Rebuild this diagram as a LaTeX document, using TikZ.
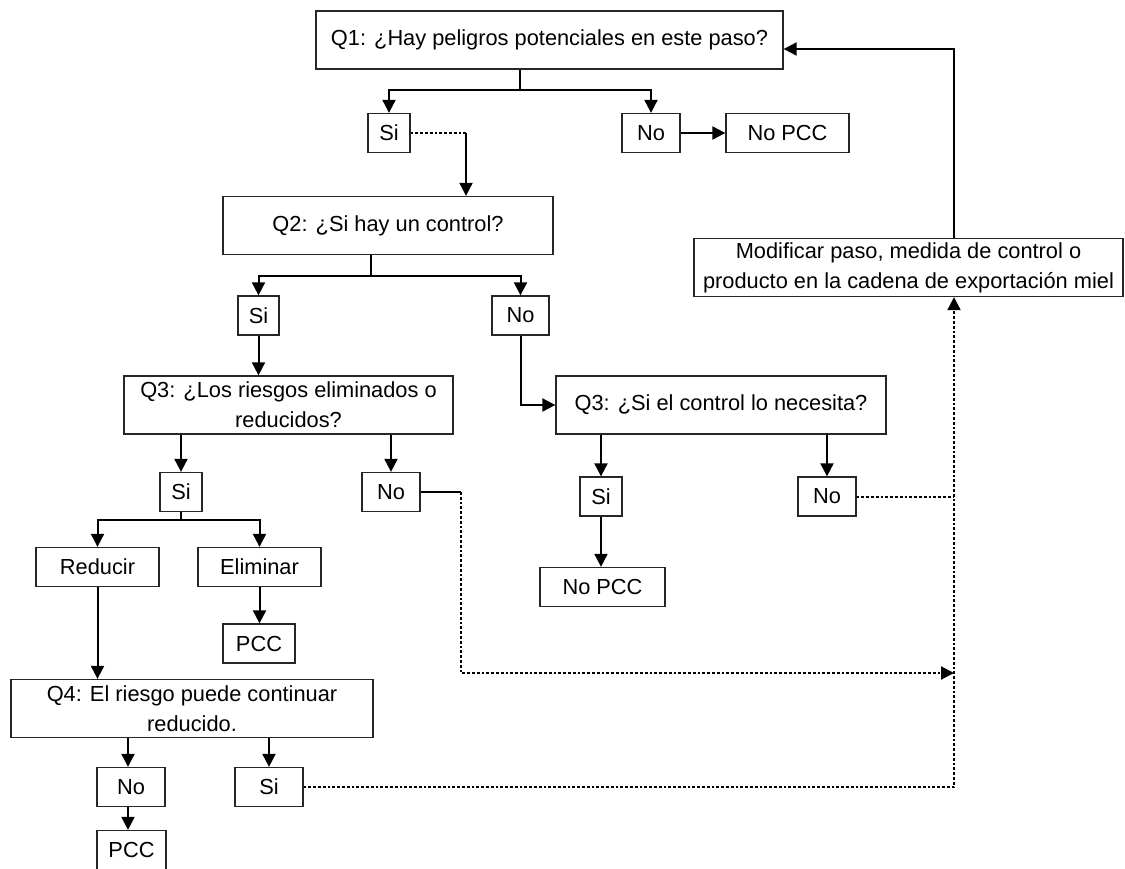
\documentclass[tikz,border=0pt]{standalone}
\usepackage{fontspec}
\setmainfont{Liberation Sans}
\usetikzlibrary{positioning, arrows.meta, calc}

\begin{document}
\begin{tikzpicture}[
        x=0.5pt, y=-0.5pt,
        box/.style={draw=black!85, line width=0.65pt, rectangle, inner sep=0pt, align=center, font=\fontsize{10.9}{15}\selectfont},
        big/.style={box, minimum height=29pt},
        small/.style={box, minimum height=19.5pt},
        arrow/.style={-{Triangle[length=6.5pt, width=6.5pt]}, line width=1pt},
        line/.style={line width=1pt},
        dotline/.style={line width=1pt, dash pattern=on 1.4pt off 1pt},
        dotarrow/.style={dotline, -{Triangle[length=6.5pt, width=6.5pt]}}
    ]
    \useasboundingbox (0,0) rectangle (1125,868);

    % Questions
    \node[big, minimum width=233.5pt] (Q1) at (549.5,40)  {Q1: ¿Hay peligros potenciales en este paso?};
    \node[big, minimum width=165pt]   (Q2) at (388,225.5) {Q2: ¿Si hay un control?};
    \node[big, minimum width=164.5pt] (Q3a) at (288.5,405) {Q3: ¿Los riesgos eliminados o\\reducidos?};
    \node[big, minimum width=165pt]   (Q3b) at (721,405)   {Q3: ¿Si el control lo necesita?};
    \node[big, minimum width=181pt]   (Q4) at (192,708.5) {Q4: El riesgo puede continuar\\reducido.};
    \node[big, minimum width=214.5pt] (M)  at (908.5,267.5) {Modificar paso, medida de control o\\producto en la cadena de exportación miel};

    % Answers after Q1
    \node[small, minimum width=21pt]   (S1)  at (389,133)   {Si};
    \node[small, minimum width=29pt]   (N1)  at (651,133)   {No};
    \node[small, minimum width=61.5pt] (NP1) at (787.5,133) {No PCC};

    % Answers after Q2
    \node[small, minimum width=20.5pt] (S2) at (258.5,315.5) {Si};
    \node[small, minimum width=28.5pt] (N2) at (520.5,315.5) {No};

    % Answers after Q3
    \node[small, minimum width=21pt]   (S3)  at (181,492)   {Si};
    \node[small, minimum width=29pt]   (N3)  at (391,492)   {No};
    \node[small, minimum width=21pt]   (S5)  at (601,496.5) {Si};
    \node[small, minimum width=29pt]   (N5)  at (827,496.5) {No};
    \node[small, minimum width=62.5pt] (NP2) at (602.5,587) {No PCC};
    \node[small, minimum width=61.5pt] (R)   at (97.5,567)  {Reducir};
    \node[small, minimum width=61.5pt] (E)   at (259.5,567) {Eliminar};
    \node[small, minimum width=36pt]   (P1)  at (259,643.5) {PCC};

    % Answers after Q4
    \node[small, minimum width=34pt]   (N4) at (131,787)   {No};
    \node[small, minimum width=34pt]   (S4) at (269,787)   {Si};
    \node[small, minimum width=34.5pt] (P2) at (131.5,850) {PCC};

    % Branch points
    \coordinate (B1) at (520,90);
    \coordinate (C1) at (466,133);
    \coordinate (B2) at (371,276);
    \coordinate (B3) at (181,520);
    \coordinate (D1) at (461,492);
    \coordinate (J1) at (954,673);
    \coordinate (V)  at (954,785);
    \coordinate (T)  at (954,49);

    % Solid connectors
    \draw[line] (Q1.south -| B1) -- (B1);
    \draw[arrow] (B1) -| (S1);
    \draw[arrow] (B1) -| (N1);
    \draw[arrow] (N1) -- (NP1);
    \draw[arrow] (C1) -- (C1 |- Q2.north);
    \draw[line] (Q2.south -| B2) -- (B2);
    \draw[arrow] (B2) -| (S2);
    \draw[arrow] (B2) -| (N2);
    \draw[arrow] (S2) -- (S2 |- Q3a.north);
    \draw[arrow] (N2) |- (Q3b);
    \draw[arrow] (Q3a.south -| S3) -- (S3);
    \draw[arrow] (Q3a.south -| N3) -- (N3);
    \draw[line] (S3) -- (B3);
    \draw[arrow] (B3) -| (R);
    \draw[arrow] (B3) -| (E);
    \draw[arrow] (E) -- (E |- P1.north);
    \draw[arrow] (R) -- (R |- Q4.north);
    \draw[arrow] (Q4.south -| 128,0) -- (128,0 |- N4.north);
    \draw[arrow] (Q4.south -| S4) -- (S4);
    \draw[arrow] (N4.south -| 128,0) -- (128,0 |- P2.north);
    \draw[arrow] (Q3b.south -| S5) -- (S5);
    \draw[arrow] (Q3b.south -| N5) -- (N5);
    \draw[arrow] (S5) -- (S5 |- NP2.north);
    \draw[line] (N3) -- (D1);
    \draw[arrow] (M.north -| T) -- (T) -- (T -| Q1.east);

    % Dotted connectors
    \draw[dotline] (S1) -- (C1);
    \draw[dotarrow] (D1) |- (J1);
    \draw[dotline] (N5) -- (N5 -| V);
    \draw[dotarrow] (S4) -| (M.south -| V);

\end{tikzpicture}
\end{document}
